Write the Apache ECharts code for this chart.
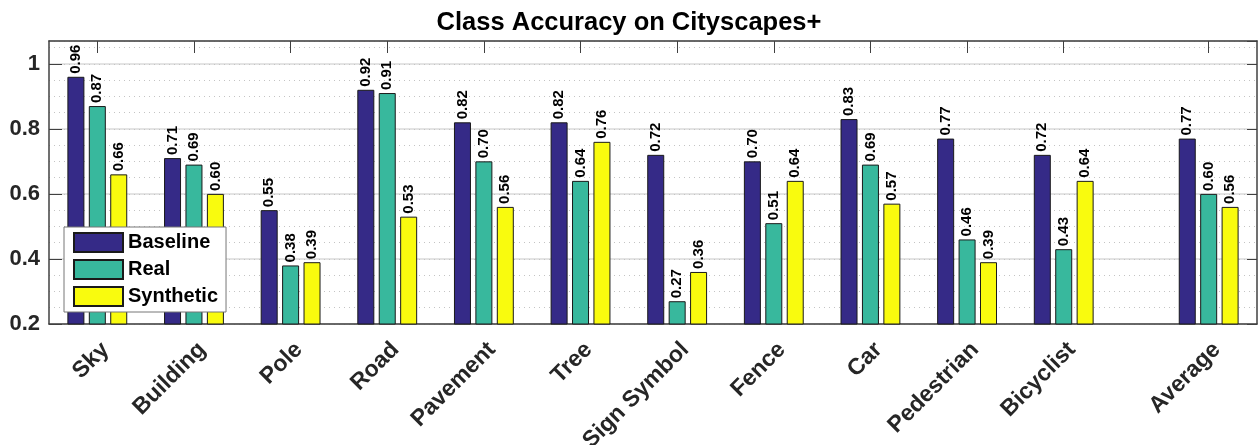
<!DOCTYPE html>
<html>
<head>
<meta charset="utf-8">
<script src="https://cdn.jsdelivr.net/npm/echarts@6/dist/echarts.min.js"></script>
<style>
html,body{margin:0;padding:0;background:#fff}
#chart{width:1258px;height:445px}
</style>
</head>
<body>
<div id="chart"></div>
<script>
var classes=['Sky','Building','Pole','Road','Pavement','Tree','Sign Symbol','Fence','Car','Pedestrian','Bicyclist','Average']
var xPos=[1,2,3,4,5,6,7,8,9,10,11,12.5]
var baseline=[0.96,0.71,0.55,0.92,0.82,0.82,0.72,0.70,0.83,0.77,0.72,0.77]
var real=[0.87,0.69,0.38,0.91,0.70,0.64,0.27,0.51,0.69,0.46,0.43,0.60]
var synthetic=[0.66,0.60,0.39,0.53,0.56,0.76,0.36,0.64,0.57,0.39,0.64,0.56]

var myChart=echarts.init(document.getElementById('chart'))
var font='"Liberation Sans", Arial, sans-serif'
var axisCol='#404040'

function pairs(vals){
    return xPos.map(function(x,i){return [x,vals[i]]})
}

function barSeries(name,vals,color){
    return {
        name:name,
        type:'bar',
        data:pairs(vals),
        barWidth:17,
        barGap:'26%',
        itemStyle:{color:color,borderColor:'#1a1a1a',borderWidth:1},
        label:{
            show:true,
            position:'top',
            rotate:90,
            align:'left',
            verticalAlign:'middle',
            distance:3,
            fontFamily:font,
            fontWeight:'bold',
            fontSize:15,
            color:'#000',
            formatter:function(p){return p.value[1].toFixed(2)}
        }
    }
}

var option={
    animation:false,
    title:{
        text:'Class Accuracy on Cityscapes+',
        left:'center',
        top:5,
        textStyle:{fontFamily:font,fontWeight:'bold',fontSize:25.5,color:'#000'}
    },
    grid:{left:49,right:1,top:41,bottom:121,outerBoundsMode:'none'},
    legend:{
        orient:'vertical',
        left:64,
        top:227,
        backgroundColor:'#fff',
        borderColor:'#777',
        borderWidth:1,
        borderRadius:0,
        padding:[5,8,5,9],
        itemGap:6,
        itemWidth:49,
        itemHeight:19,
        icon:'rect',
        textStyle:{fontFamily:font,fontWeight:'bold',fontSize:20,color:'#000'},
        data:['Baseline','Real','Synthetic']
    },
    xAxis:[{
        type:'value',
        min:0.5,
        max:13,
        position:'bottom',
        axisLine:{show:true,lineStyle:{color:axisCol,width:1.5}},
        axisTick:{show:true,inside:true,length:12,customValues:xPos,lineStyle:{color:axisCol}},
        axisLabel:{
            customValues:xPos,
            rotate:45,
            align:'right',
            verticalAlign:'top',
            margin:14,
            fontFamily:font,
            fontWeight:'bold',
            fontSize:23,
            color:'#262626',
            formatter:function(v){
                var i=xPos.indexOf(v)
                return i<0?'':classes[i]
            }
        },
        splitLine:{show:false}
    },{
        type:'value',
        min:0.5,
        max:13,
        position:'top',
        axisLine:{show:true,lineStyle:{color:axisCol,width:1.5}},
        axisTick:{show:true,inside:true,length:12,customValues:xPos,lineStyle:{color:axisCol}},
        axisLabel:{show:false},
        splitLine:{show:false}
    }],
    yAxis:[{
        type:'value',
        min:0.2,
        max:1.07,
        interval:0.2,
        position:'left',
        axisLine:{show:true,lineStyle:{color:axisCol,width:1.5}},
        axisTick:{show:true,inside:true,length:13,lineStyle:{color:axisCol}},
        axisLabel:{
            margin:9,
            showMaxLabel:false,
            fontFamily:font,
            fontWeight:'bold',
            fontSize:22,
            color:'#262626',
            formatter:function(v){return String(Math.round(v*10)/10)}
        },
        splitLine:{show:true,lineStyle:{color:'#e3e3e3',width:2}}
    },{
        type:'value',
        min:0.2,
        max:1.07,
        interval:0.2,
        position:'right',
        axisLine:{show:true,lineStyle:{color:axisCol,width:1.5}},
        axisTick:{show:true,inside:true,length:10,lineStyle:{color:axisCol}},
        axisLabel:{show:false},
        splitLine:{show:false}
    },{
        // minor dotted grid every 0.05
        type:'value',
        min:0.2,
        max:1.07,
        interval:0.05,
        position:'left',
        axisLine:{show:false},
        axisTick:{show:false},
        axisLabel:{show:false},
        splitLine:{show:true,lineStyle:{color:'#c4c4c4',type:[1,4],width:1}},
        z:0
    }],
    series:[
        barSeries('Baseline',baseline,'#352a87'),
        barSeries('Real',real,'#38b89d'),
        barSeries('Synthetic',synthetic,'#f9fb0e')
    ]
}
myChart.setOption(option)
</script>
</body>
</html>
